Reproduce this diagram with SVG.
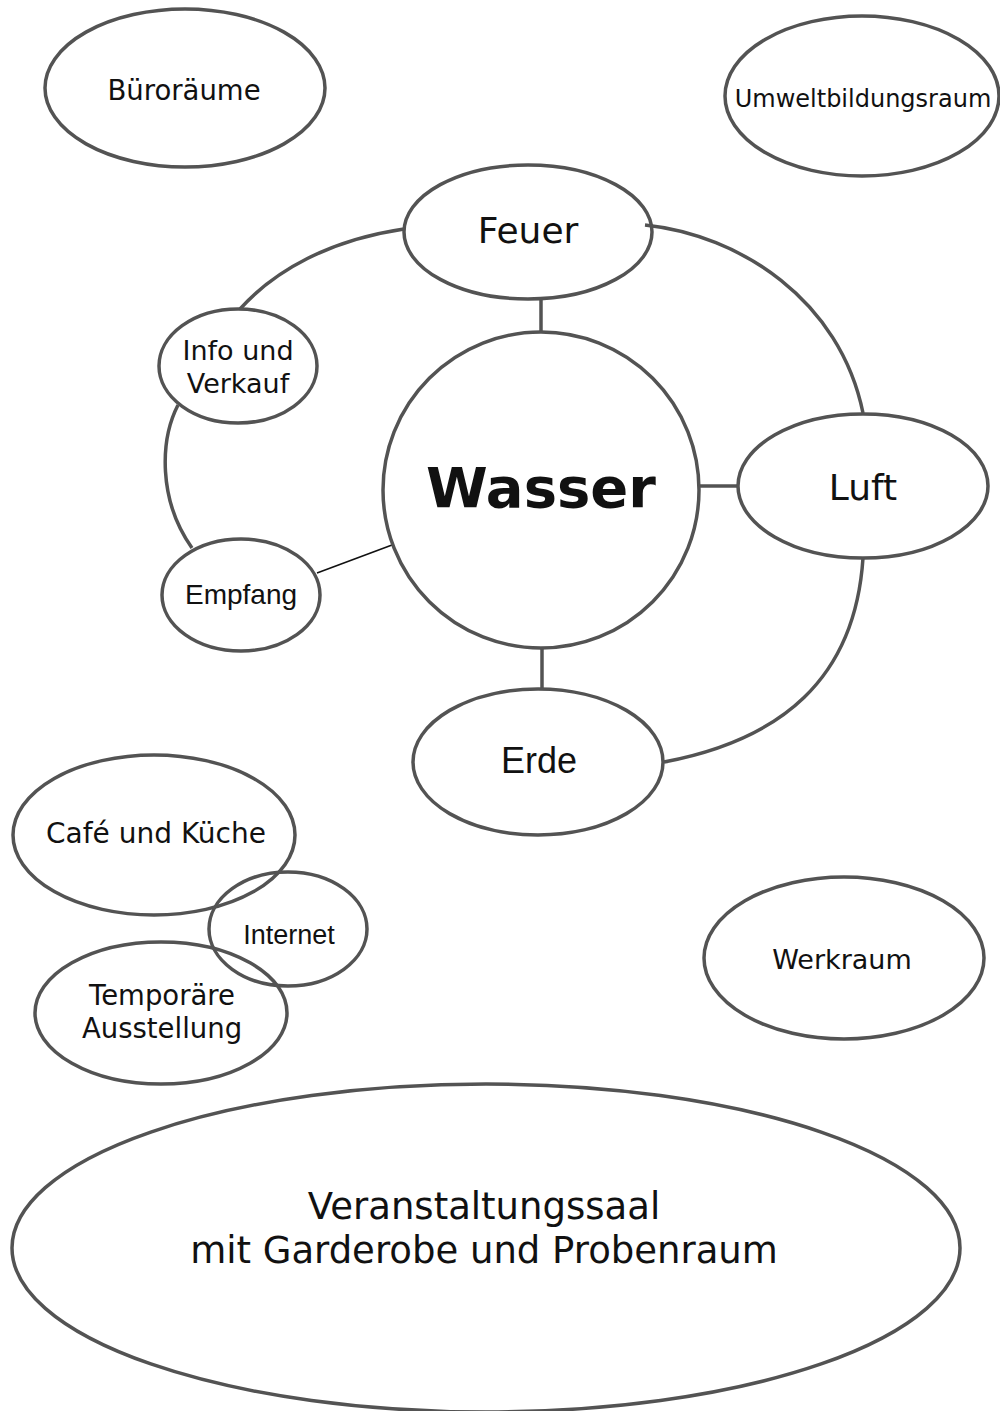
<svg xmlns="http://www.w3.org/2000/svg" width="1000" height="1411" viewBox="0 0 1000 1411">
<style>
.n{fill:none;stroke:#535353;stroke-width:3.5}
.c{fill:none;stroke:#535353;stroke-width:3.5}
.t{font-family:"DejaVu Sans","Verdana",sans-serif;fill:#111;text-anchor:middle}
.a{font-family:"Liberation Sans",Arial,sans-serif;fill:#111;text-anchor:middle}
</style>
<rect width="1000" height="1411" fill="#fff"/>
<g id="connectors">
<line class="c" x1="541" y1="300" x2="541" y2="333"/>
<line class="c" x1="700" y1="486" x2="739" y2="486"/>
<line class="c" x1="542" y1="647" x2="542" y2="689"/>
<line x1="317" y1="573" x2="392" y2="545" stroke="#111" stroke-width="1.6"/>
<path class="c" d="M645,225 C740,235 840,300 863,413"/>
<path class="c" d="M863,558 C855,680 780,740 664,762"/>
<path class="c" d="M404,229 C330,240 275,270 240,309"/>
<path class="c" d="M178,405 C160,440 158,500 192,548"/>
</g>
<g id="bueroraeume"><ellipse class="n" cx="185" cy="88" rx="140" ry="79"/><text class="t" x="184" y="100" font-size="27.5">Büroräume</text></g>
<g id="umweltbildungsraum"><ellipse class="n" cx="862" cy="96" rx="137" ry="80"/><text class="t" x="863" y="107" font-size="24">Umweltbildungsraum</text></g>
<g id="feuer"><ellipse class="n" cx="528" cy="232" rx="124" ry="67"/><text class="t" x="528" y="243" font-size="36">Feuer</text></g>
<g id="wasser"><circle class="n" cx="541" cy="490" r="158"/><text class="t" x="541" y="507" font-size="56" font-weight="bold">Wasser</text></g>
<g id="luft"><ellipse class="n" cx="863" cy="486" rx="125" ry="72"/><text class="t" x="863" y="500" font-size="36">Luft</text></g>
<g id="erde"><ellipse class="n" cx="538" cy="762" rx="125" ry="73"/><text class="a" x="539" y="773" font-size="36">Erde</text></g>
<g id="info"><ellipse class="n" cx="238" cy="366" rx="79" ry="57"/><text class="t" x="238" y="360" font-size="27">Info und</text><text class="t" x="238" y="393" font-size="27">Verkauf</text></g>
<g id="empfang"><ellipse class="n" cx="241" cy="595" rx="79" ry="56"/><text class="a" x="241" y="604" font-size="28">Empfang</text></g>
<g id="cafe"><ellipse class="n" cx="154" cy="835" rx="141" ry="80"/><text class="t" x="156" y="843" font-size="28">Café und Küche</text></g>
<g id="internet"><ellipse class="n" cx="288" cy="929" rx="79" ry="57"/><text class="a" x="289" y="944" font-size="27">Internet</text></g>
<g id="temporaer"><ellipse class="n" cx="161" cy="1013" rx="126" ry="71"/><text class="t" x="162" y="1005" font-size="27.5">Temporäre</text><text class="t" x="162" y="1038" font-size="27.5">Ausstellung</text></g>
<g id="werkraum"><ellipse class="n" cx="844" cy="958" rx="140" ry="81"/><text class="t" x="842" y="969" font-size="27">Werkraum</text></g>
<g id="veranstaltungssaal"><ellipse class="n" cx="486" cy="1248" rx="474" ry="164"/><text class="t" x="484" y="1219" font-size="37">Veranstaltungssaal</text><text class="t" x="484" y="1263" font-size="37">mit Garderobe und Probenraum</text></g>
</svg>
